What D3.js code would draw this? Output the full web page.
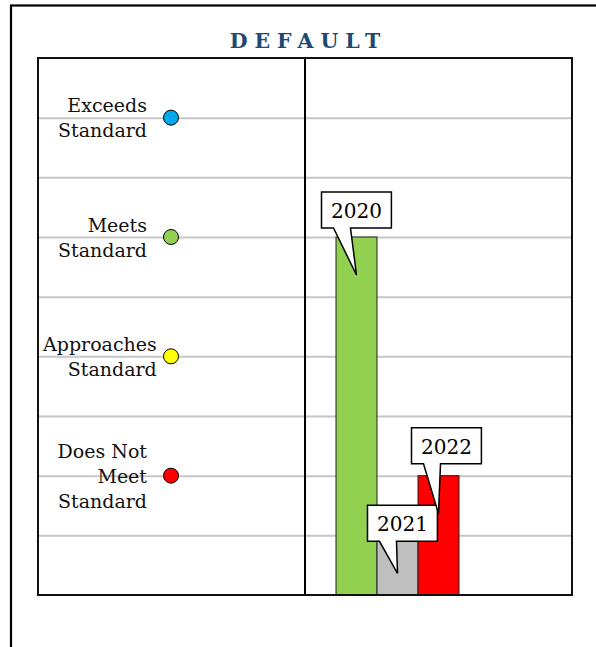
<!DOCTYPE html>
<html>
<head>
<meta charset="utf-8">
<script src="https://cdn.jsdelivr.net/npm/d3@7"></script>
<style>
  html, body { margin: 0; padding: 0; background: #fff; }
  svg { display: block; }
</style>
</head>
<body>
<svg id="chart" width="596" height="647"></svg>
<script>
// ---- data ----
const title = "DEFAULT";
const levelNames = [["Does Not", "Meet", "Standard"], ["Approaches", "Standard"], ["Meets", "Standard"], ["Exceeds", "Standard"]];
const levelValues = [2, 4, 6, 8];
const levelColors = ["#ff0000", "#ffff00", "#92d050", "#00a8ec"];
const gridValues = [1, 2, 3, 4, 5, 6, 7, 8];
const years = ["2020", "2021", "2022"];
const yearValues = [6, 1, 2];
const yearColors = ["#92d050", "#bfbfbf", "#ff0000"];
const yMax = 9;

// ---- layout (not data) ----
const L = 38, R = 572, T = 58, B = 595, DIV = 305;
const calloutOffsets = [{dx: -35, dy: -45}, {dx: -30, dy: -30}, {dx: -27, dy: -48}];
const serif = "'DejaVu Serif', serif";

const svg = d3.select("#chart");

// outer frame
svg.append("rect").attr("x", 11).attr("y", 5.5).attr("width", 700).attr("height", 700)
  .attr("fill", "none").attr("stroke", "#000").attr("stroke-width", 2.2);

// title
svg.append("text").attr("x", 305 + 3.5).attr("y", 48)
  .attr("text-anchor", "middle").attr("font-family", serif).attr("font-weight", "bold")
  .attr("font-size", 20.5).attr("letter-spacing", "7px").attr("fill", "#1b4a72").text(title);

const y = d3.scaleLinear().domain([0, yMax]).range([B, T]);
const x = d3.scaleBand().domain(years).range([DIV + 31, DIV + 154]).padding(0);

// gridlines via axis
const gridAxis = d3.axisLeft(y).tickValues(gridValues).tickSize(-(R - L)).tickFormat("");
const g = svg.append("g").attr("transform", `translate(${L},0)`).call(gridAxis);
g.select(".domain").remove();
g.selectAll(".tick line").attr("stroke", "#c6c6c6").attr("stroke-width", 2);

// plot frame and divider
svg.append("line").attr("x1", DIV).attr("x2", DIV).attr("y1", T).attr("y2", B)
  .attr("stroke", "#000").attr("stroke-width", 2);
svg.append("rect").attr("x", L).attr("y", T).attr("width", R - L).attr("height", B - T)
  .attr("fill", "none").attr("stroke", "#111").attr("stroke-width", 2);

// level labels and markers
levelValues.forEach((v, i) => {
  const gy = y(v);
  const lines = levelNames[i];
  const n = lines.length;
  const t = svg.append("text").attr("font-family", serif).attr("font-size", 19)
    .attr("fill", "#111").attr("text-anchor", "end");
  lines.forEach((ln, j) => {
    t.append("tspan").attr("x", 147).attr("y", gy + 7 - (n - 1) * 12.5 + j * 25).text(ln);
  });
  const w = t.node().getBBox().width;
  if (147 - w < 42) t.selectAll("tspan").attr("x", 42 + w);
  svg.append("circle").attr("cx", 171).attr("cy", gy).attr("r", 7.5)
    .attr("fill", levelColors[i]).attr("stroke", "#000").attr("stroke-width", 1);
});

// bars
svg.selectAll("rect.bar").data(years).enter().append("rect").attr("class", "bar")
  .attr("x", d => x(d)).attr("width", x.bandwidth())
  .attr("y", (d, i) => y(yearValues[i])).attr("height", (d, i) => B - y(yearValues[i]))
  .attr("fill", (d, i) => yearColors[i]).attr("stroke", "#222").attr("stroke-width", 1);

// redraw frame bottom over bars
svg.append("line").attr("x1", L).attr("x2", R).attr("y1", B).attr("y2", B)
  .attr("stroke", "#111").attr("stroke-width", 2);

// callouts
years.forEach((yr, i) => {
  const cx = x(yr) + x.bandwidth() / 2;
  const top = y(yearValues[i]);
  const grp = svg.append("g");
  const txt = grp.append("text").attr("font-family", serif).attr("font-size", 20)
    .attr("text-anchor", "middle").attr("fill", "#000").text(yr);
  const tw = txt.node().getComputedTextLength();
  const bw = tw + 19, bh = 36;
  const bx = cx + calloutOffsets[i].dx, by = top + calloutOffsets[i].dy;
  const tx = cx, ty = top + 38;
  const x1 = bx + 12, x2 = bx + 29;
  const p = `M${bx},${by}H${bx + bw}V${by + bh}H${x2}L${tx},${ty}L${x1},${by + bh}H${bx}Z`;
  grp.insert("path", "text").attr("d", p).attr("fill", "#fff").attr("stroke", "#000")
    .attr("stroke-width", 1.5).attr("stroke-linejoin", "miter");
  txt.attr("x", bx + bw / 2).attr("y", by + 26);
});
</script>
</body>
</html>
